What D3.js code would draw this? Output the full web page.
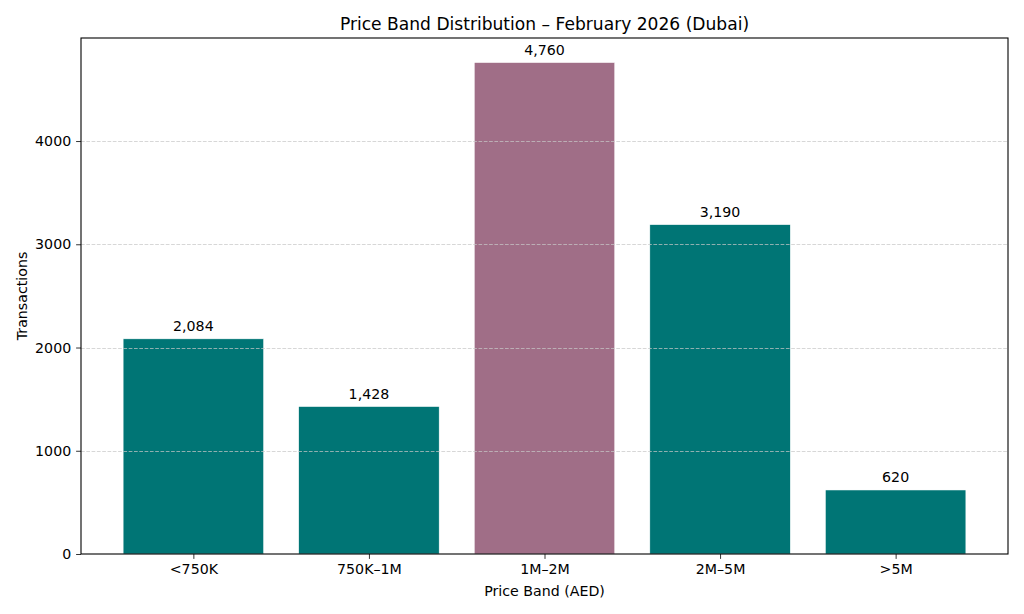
<!DOCTYPE html>
<html>
<head>
<meta charset="utf-8">
<script src="https://cdn.jsdelivr.net/npm/d3@7"></script>
<style>
  body { margin: 0; background: #fff; }
  svg { display: block; font-family: "DejaVu Sans", sans-serif; }
</style>
</head>
<body>
<svg id="chart" width="1024" height="614"></svg>
<script>
// data
var bands = ["<750K", "750K\u20131M", "1M\u20132M", "2M\u20135M", ">5M"];
var transactions = [2084, 1428, 4760, 3190, 620];
var highlightBand = "1M\u20132M";
var yTicks = [0, 1000, 2000, 3000, 4000];

var svg = d3.select("#chart"),
  margin = {top: 38, right: 16, bottom: 60, left: 81},
  width = 1024 - margin.left - margin.right,
  height = 614 - margin.top - margin.bottom,
  g = svg.append("g").attr("transform", "translate(" + margin.left + "," + margin.top + ")");

// matplotlib-like positions: bars at 0..n-1, width 0.8, 5% margins
var n = bands.length;
var pad = (n - 1 + 0.8) * 0.05;
var x = d3.scaleLinear()
  .domain([-0.4 - pad, n - 1 + 0.4 + pad])
  .range([0, width]);

var y = d3.scaleLinear()
  .domain([0, d3.max(transactions) * 1.05])
  .range([height, 0]);

// bars
g.selectAll(".bar")
  .data(bands)
  .enter().append("rect")
  .attr("class", "bar")
  .attr("x", function (d, i) { return x(i - 0.4); })
  .attr("width", function (d, i) { return x(i + 0.4) - x(i - 0.4); })
  .attr("y", function (d, i) { return y(transactions[i]); })
  .attr("height", function (d, i) { return height - y(transactions[i]); })
  .style("fill", function (d) { return d === highlightBand ? "#a06e87" : "#007575"; })
  .style("stroke", "#ffffff")
  .style("stroke-width", 0.5);

// grid lines (drawn above the bars, like the reference)
g.append("g")
  .selectAll("line")
  .data(yTicks.slice(1))
  .enter().append("line")
  .attr("x1", 0)
  .attr("x2", width)
  .attr("y1", function (d) { return Math.round(y(d)) + 0.5; })
  .attr("y2", function (d) { return Math.round(y(d)) + 0.5; })
  .style("stroke", "#c8c8c8")
  .style("stroke-width", 0.8)
  .style("stroke-dasharray", "3.7,1.6")
  .style("opacity", 0.9);

// value labels
g.selectAll(".val")
  .data(bands)
  .enter().append("text")
  .attr("class", "val")
  .attr("x", function (d, i) { return x(i); })
  .attr("y", function (d, i) { return y(transactions[i]) - 7.5; })
  .attr("text-anchor", "middle")
  .style("font-size", "14.2px")
  .style("fill", "#000")
  .text(function (d, i) { return d3.format(",")(transactions[i]); });

// axes
var xAxis = d3.axisBottom(x)
  .tickValues(d3.range(n))
  .tickFormat(function (i) { return bands[i]; })
  .tickSize(4.9)
  .tickPadding(4.9)
  .tickSizeOuter(0);

var yAxis = d3.axisLeft(y)
  .tickValues(yTicks)
  .tickFormat(d3.format("d"))
  .tickSize(4.9)
  .tickPadding(4.9)
  .tickSizeOuter(0);

var gx = g.append("g")
  .attr("transform", "translate(0," + height + ")")
  .call(xAxis);
var gy = g.append("g").call(yAxis);

[gx, gy].forEach(function (a) {
  a.select(".domain").remove();
  a.selectAll("line").style("stroke", "#000").style("stroke-width", 0.8);
  a.selectAll("text").style("font-size", "14.2px").style("fill", "#000")
    .style("font-family", "DejaVu Sans, sans-serif");
});

// frame
g.append("rect")
  .attr("width", width)
  .attr("height", height)
  .style("fill", "none")
  .style("stroke", "#000")
  .style("stroke-width", 1.1);

// labels
svg.append("text")
  .attr("x", margin.left + width / 2)
  .attr("y", 30)
  .attr("text-anchor", "middle")
  .style("font-size", "17.1px")
  .text("Price Band Distribution \u2013 February 2026 (Dubai)");

svg.append("text")
  .attr("x", margin.left + width / 2)
  .attr("y", 596)
  .attr("text-anchor", "middle")
  .style("font-size", "14.2px")
  .text("Price Band (AED)");

svg.append("text")
  .attr("transform", "translate(27," + (margin.top + height / 2) + ") rotate(-90)")
  .attr("text-anchor", "middle")
  .style("font-size", "14.2px")
  .text("Transactions");
</script>
</body>
</html>
